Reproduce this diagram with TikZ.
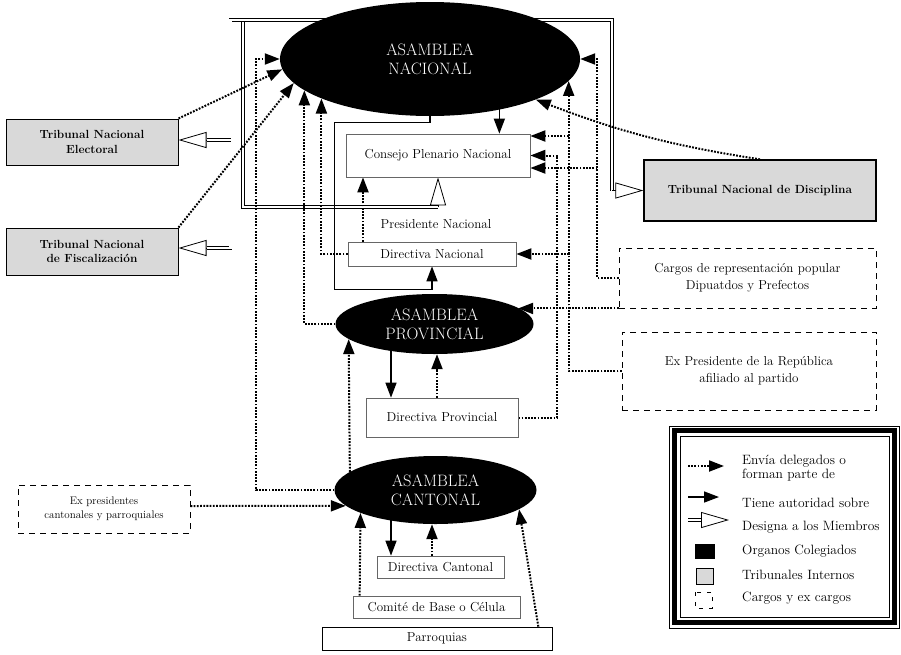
\documentclass[tikz,border=0pt]{standalone}
\usepackage{fontspec}
\usetikzlibrary{shapes.geometric,arrows.meta,calc}
\pgfdeclarelayer{background}
\pgfsetlayers{background,main}

\tikzset{
  organo/.style={ellipse, fill=black, text=white, align=center, inner sep=0pt, font=\fontsize{16.5}{19}\selectfont},
  caja/.style={draw=black!60, line width=0.7pt, fill=white, inner sep=0pt, font=\fontsize{13}{15}\selectfont},
  tribunal/.style={draw, line width=1pt, fill=black!15, align=center, inner sep=0pt, font=\fontsize{11.8}{14.5}\selectfont\bfseries},
  cargo/.style={draw, line width=0.9pt, dash pattern=on 6pt off 5pt, fill=white, align=center, inner sep=0pt, font=\fontsize{13}{17}\selectfont},
  delega/.style={line width=2pt, dash pattern=on 1.8pt off 1.4pt, -{Triangle[length=15pt,width=11pt]}},
  autoridad/.style={line width=1.5pt, -{Triangle[length=15pt,width=11pt]}},
  designa/.style={line width=0.8pt, double=white, double distance=2.2pt},
  abre/.style={line width=0.8pt, -{Triangle[length=28pt,width=16pt,fill=white]}},
  leyenda/.style={anchor=west, inner sep=0pt, align=left, font=\fontsize{13.5}{13.5}\selectfont},
}

\begin{document}
\begin{tikzpicture}[x=1pt, y=-1pt]
\useasboundingbox (0,0) rectangle (901,654);

% Organos colegiados
\node[organo, minimum width=300pt, minimum height=114pt] (nac) at (430,59) {ASAMBLEA\\NACIONAL};
\node[organo, minimum width=198pt, minimum height=60pt] (prov) at (434.5,324) {ASAMBLEA\\PROVINCIAL};
\node[organo, minimum width=202pt, minimum height=68pt] (cant) at (435.5,490) {ASAMBLEA\\CANTONAL};

% Directivas y consejos
\node[caja, minimum width=184pt, minimum height=43pt] (cpn) at (438,155.5) {Consejo Plenario Nacional};
\node[font=\fontsize{13}{15}\selectfont] (pres) at (436,224) {Presidente Nacional};
\node[caja, minimum width=168pt, minimum height=24pt] (dirnac) at (432,254) {Directiva Nacional};
\node[caja, minimum width=152pt, minimum height=39pt] (dirprov) at (442,417.5) {Directiva Provincial};
\node[caja, minimum width=127pt, minimum height=22pt] (dirc) at (440.5,567) {Directiva Cantonal};
\node[caja, minimum width=167pt, minimum height=22pt] (comite) at (436.5,607) {Comité de Base o Célula};
\node[caja, draw=black, minimum width=230pt, minimum height=23pt] (parr) at (437,638.5) {Parroquias};

% Tribunales internos
\node[tribunal, minimum width=172pt, minimum height=46pt] (elect) at (92,142) {Tribunal Nacional\\Electoral};
\node[tribunal, minimum width=172pt, minimum height=47pt] (fisc) at (92,251.5) {Tribunal Nacional\\de Fiscalización};
\node[tribunal, line width=1.3pt, minimum width=232pt, minimum height=61pt] (disc) at (760,190.5) {Tribunal Nacional de Disciplina};

% Cargos y ex cargos
\node[cargo, minimum width=257pt, minimum height=60pt] (cargos) at (747.5,278) {Cargos de representación popular\\Dipuatdos y Prefectos};
\node[cargo, minimum width=254pt, minimum height=78pt] (expres) at (749,371) {Ex Presidente de la República\\afiliado al partido};
\node[cargo, font=\fontsize{11}{14}\selectfont, minimum width=172pt, minimum height=48pt] (expresc) at (104,509) {Ex presidentes\\cantonales y parroquiales};

\begin{pgfonlayer}{background}
% Designa a los miembros
\coordinate (dsg) at ($(nac.center)+(0,-39)$);
\draw[designa] (dsg) -| ($(disc.west)+(-31,0)$);
\draw[abre] ($(disc.west)+(-31,0)$) -- (disc.west);
\draw[designa] (dsg) -| ($(cpn.south)+(-195,30)$) -- ($(cpn.south)+(0,30)$);
\draw[abre] ($(cpn.south)+(0,30)$) -- (cpn.south);
\draw[designa] (dsg) -| ($(fisc.east)+(52,-3.5)$) -- ($(fisc.east)+(28,-3.5)$);
\draw[abre] ($(fisc.east)+(28,-3.5)$) -- ($(fisc.east)+(0,-3.5)$);
\draw[designa] ($(elect.east)+(52,-2)$) -- ($(elect.east)+(28,-2)$);
\draw[abre] ($(elect.east)+(28,-2)$) -- ($(elect.east)+(0,-2)$);

% Tiene autoridad sobre
\draw[autoridad] (nac.south) |- ($(cpn.north west)+(-11,-11)$) |- ($(dirnac.south)+(0,23)$) -- (dirnac.south);
\draw[autoridad] ($(cpn.north east)+(-31,-60)$) -- ($(cpn.north east)+(-31,0)$);
\draw[autoridad] ($(dirprov.north)+(-51,-60)$) -- ($(dirprov.north)+(-51,0)$);
\draw[autoridad] ($(dirc.north)+(-49.5,-60)$) -- ($(dirc.north)+(-49.5,0)$);

% Envia delegados o forman parte de
\draw[delega] (elect.north east) -- (nac.184);
\draw[delega] (fisc.north east) -- (nac.190);
\draw[delega] (cant.west) -| ($(nac.west)+(-24,0)$) -- (nac.west);
\draw[delega] (prov.west) -| (nac.194);
\draw[delega] (dirnac.west) -| (nac.200);
\draw[delega] ($(dirnac.north)+(-69,0)$) -- ($(cpn.south)+(-75,0)$);
\draw[delega] (disc.north) to[bend left=6] (nac.339);
\draw[delega] (cargos.west) -| ($(nac.east)+(17,0)$) -- (nac.east);
\draw[delega] (cargos.west) -| ($(cpn.east)+(67,12.5)$) -- ($(cpn.east)+(0,12.5)$);
\draw[delega] (cargos.south west) -- (prov.11 |- cargos.south west);
\draw[delega] (expres.west) -| (nac.351);
\draw[delega] (expres.west) -| ($(cpn.east)+(38.5,-19.5)$) -- ($(cpn.east)+(0,-19.5)$);
\draw[delega] (expres.west) -| ($(dirnac.east)+(52.5,0)$) -- (dirnac.east);
\draw[delega] (dirprov.east) -| ($(cpn.east)+(27,0)$) -- (cpn.east);
\draw[delega] ($(dirprov.north)+(-5,0)$) -- ($(prov.south)+(2.5,0)$);
\draw[delega] (cant.168) -- (prov.190);
\draw[delega] ($(expresc.east)+(0,-3)$) -- (cant.190);
\draw[delega] ($(dirc.north)+(-8.5,0)$) -- ($(cant.south)+(-3.5,0)$);
\draw[delega] ($(comite.north west)+(7,0)$) -- (cant.197);
\draw[delega] ($(parr.north east)+(-14,0)$) -- (cant.347);
\end{pgfonlayer}

% Leyenda
\draw[line width=0.6pt] (669,426) rectangle (899,628);
\draw[line width=5pt] (674.5,430.5) rectangle (894.5,622.5);
\draw[line width=0.6pt] (680,436) rectangle (889,617);
\draw[delega] (688,466) -- (724,466);
\node[leyenda] (ley1) at (742,468) {Envía delegados o\\forman parte de};
\draw[autoridad] (688,497) -- (719,497);
\node[leyenda] (ley2) at (742,503) {Tiene autoridad sobre};
\draw[designa] (688,520) -- (704,520);
\draw[abre] (703,520) -- (729,520);
\node[leyenda] (ley3) at (742,527) {Designa a los Miembros};
\fill (695,544) rectangle (715,559);
\node[leyenda] (ley4) at (742,551) {Organos Colegiados};
\draw[fill=black!15, line width=0.6pt] (696,568) rectangle (713,584);
\node[leyenda] (ley5) at (742,575) {Tribunales Internos};
\draw[line width=0.8pt, dash pattern=on 4pt off 6pt] (695,592) rectangle (712,608);
\node[leyenda] (ley6) at (742,598) {Cargos y ex cargos};
\end{tikzpicture}
\end{document}
